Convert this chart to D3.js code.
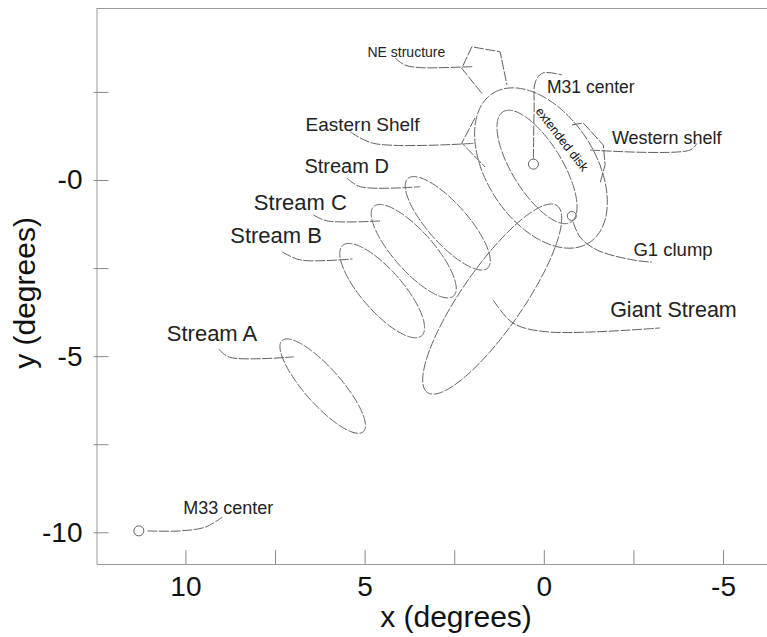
<!DOCTYPE html>
<html><head><meta charset="utf-8">
<script src="https://cdn.jsdelivr.net/npm/d3@7"></script>
<style>body{margin:0;background:#fff}svg{display:block;font-family:"Liberation Sans",Arial,sans-serif}</style>
</head><body><svg id="c" width="767" height="637"></svg>
<script>
// ---------- data (degrees) ----------
const xTicks = [10, 7.5, 5, 2.5, 0, -2.5, -5];
const xTickLabels = ["10", "", "5", "", "0", "", "-5"];
const yTicks = [2.5, 0, -2.5, -5, -7.5, -10];
const yTickLabels = ["", "-0", "", "-5", "", "-10"];

const ellipseNames   = ["Stream A", "Stream B", "Stream C", "Stream D", "Giant Stream", "outer disk", "inner disk"];
const ellipseCenters = [[6.17, -5.85], [4.51, -3.14], [3.63, -2.02], [2.68, -1.23], [1.44, -3.38], [0.08, 0.34], [0.19, 0.37]];
const ellipseAxes    = [[1.72, 0.51], [1.69, 0.58], [1.69, 0.56], [1.69, 0.56], [3.21, 0.86], [2.51, 1.52], [1.83, 0.70]];
const ellipseAngles  = [49, 49.5, 49, 49, -55.8, 58, 59];

const shelfNames  = ["NE structure", "Eastern Shelf", "Western shelf"];
const shelfPoints = [
  [[1.73, 2.46], [2.29, 3.17], [2.01, 3.78], [1.22, 3.64], [1.03, 2.70]],
  [[1.92, 1.76], [2.29, 1.05], [1.64, 0.37]],
  [[-0.78, 1.56], [-1.10, 1.62], [-1.66, 0.99], [-1.71, 0.43], [-1.57, -0.09]]
];

const centerNames  = ["M31 center", "G1 clump", "M33 center"];
const centerPoints = [[0.29, 0.45], [-0.78, -1.02], [11.30, -9.96]];

const labelTexts  = ["NE structure", "M31 center", "Eastern Shelf", "Stream D", "Stream C", "Stream B", "Stream A",
                     "Western shelf", "G1 clump", "Giant Stream", "M33 center"];
const labelAnchors = [[4.92, 3.49], [-0.09, 2.46], [6.65, 1.40], [6.68, 0.19], [8.09, -0.85], [8.75, -1.80], [10.52, -4.56],
                      [-1.90, 1.02], [-2.50, -2.16], [-1.85, -3.88], [10.06, -9.49]];
const leaderLines = [
  [[4.15, 3.46], [3.87, 3.26], [3.45, 3.19], [1.96, 3.22]],
  [[0.29, 0.60], [0.27, 2.0], [0.23, 2.8], [0.02, 3.04], [-0.51, 2.98]],
  [[5.40, 1.37], [4.75, 1.04], [1.96, 1.04]],
  [[5.49, 0.05], [5.12, -0.19], [3.45, -0.19]],
  [[6.43, -0.99], [6.05, -1.16], [4.52, -1.16]],
  [[7.30, -2.04], [6.79, -2.27], [5.34, -2.24]],
  [[9.07, -4.80], [8.77, -5.03], [6.98, -5.02]],
  [[-1.29, 0.85], [-4.08, 0.85], [-4.27, 1.04]],
  [[-0.82, -1.19], [-1.01, -1.62], [-1.49, -1.99], [-2.49, -2.27], [-3.02, -2.33]],
  [[1.41, -3.41], [0.86, -4.06], [-0.09, -4.31], [-3.24, -4.20]],
  [[11.06, -9.96], [10.14, -9.96], [9.44, -9.85], [8.97, -9.57]]
];
const diskLabel = "extended disk";
const diskLabelAt = [-0.51, 1.16];
const diskLabelAngle = 52;

// ---------- styles ----------
const labelSizes = [14, 17.5, 19, 20, 22, 22, 22, 18, 18.5, 21.5, 18];
const lineColor = "#606060";
const dash = "10,1.6";

// ---------- chart ----------
const svg = d3.select("#c");
const x = d3.scaleLinear().domain([12.481, -6.227]).range([96.5, 767]);
const y = d3.scaleLinear().domain([4.882, -10.9]).range([8, 564]);

// frame top
svg.append("line").attr("x1", 96.5).attr("x2", 767).attr("y1", 8.5).attr("y2", 8.5)
  .attr("stroke", "#9a9a9a").attr("stroke-width", 1);

const xAxis = svg.append("g").attr("transform", "translate(0,564)")
  .call(d3.axisBottom(x).tickValues(xTicks).tickSizeInner(-14).tickSizeOuter(0).tickPadding(12)
    .tickFormat((d, i) => xTickLabels[i]));
xAxis.select(".domain").attr("stroke", "#9a9a9a");
xAxis.selectAll(".tick line").attr("stroke", "#8a8a8a");
xAxis.selectAll(".tick text").attr("font-size", 28).attr("fill", "#111")
  .attr("font-family", "'Liberation Sans', Arial, sans-serif");

const yAxis = svg.append("g").attr("transform", "translate(96.5,0)")
  .call(d3.axisLeft(y).tickValues(yTicks).tickSizeInner(-12).tickSizeOuter(0).tickPadding(14)
    .tickFormat((d, i) => yTickLabels[i]));
yAxis.select(".domain").attr("stroke", "#9a9a9a");
yAxis.selectAll(".tick line").attr("stroke", "#8a8a8a").attr("x1", -3).attr("x2", 12);
yAxis.selectAll(".tick text").attr("font-size", 28).attr("fill", "#111")
  .attr("font-family", "'Liberation Sans', Arial, sans-serif");

svg.append("text").attr("x", 456).attr("y", 627).attr("text-anchor", "middle")
  .attr("font-size", 30).attr("fill", "#111").text("x (degrees)");
svg.append("text").attr("transform", "translate(35,293) rotate(-90)").attr("text-anchor", "middle")
  .attr("font-size", 30).attr("fill", "#111").text("y (degrees)");

// ellipses
const plot = svg.append("g");
const line = d3.line().x(d => x(d[0])).y(d => y(d[1]));
ellipseNames.forEach((n, i) => {
  const [cx, cy] = ellipseCenters[i], [a, b] = ellipseAxes[i], p = ellipseAngles[i] * Math.PI / 180;
  const pts = d3.range(0, 361, 2).map(t => {
    const r = t * Math.PI / 180;
    return [cx + a * Math.cos(r) * Math.cos(p) - b * Math.sin(r) * Math.sin(p),
            cy + a * Math.cos(r) * Math.sin(p) + b * Math.sin(r) * Math.cos(p)];
  });
  plot.append("path").attr("d", line(pts)).attr("fill", "none")
    .attr("stroke", lineColor).attr("stroke-width", 1).attr("stroke-dasharray", dash);
});

// shelves
shelfPoints.forEach(pts => {
  plot.append("path").attr("d", line(pts)).attr("fill", "none")
    .attr("stroke", lineColor).attr("stroke-width", 1).attr("stroke-dasharray", dash);
});

// leader lines
const curve = d3.line().x(d => x(d[0])).y(d => y(d[1])).curve(d3.curveCatmullRom.alpha(0.5));
leaderLines.forEach(pts => {
  plot.append("path").attr("d", curve(pts)).attr("fill", "none")
    .attr("stroke", lineColor).attr("stroke-width", 1).attr("stroke-dasharray", dash);
});

// center circles
const radii = [5, 4.5, 5];
centerPoints.forEach((c, i) => {
  plot.append("circle").attr("cx", x(c[0])).attr("cy", y(c[1])).attr("r", radii[i])
    .attr("fill", "none").attr("stroke", lineColor).attr("stroke-width", 1);
});

// labels
labelTexts.forEach((t, i) => {
  svg.append("text").attr("x", x(labelAnchors[i][0])).attr("y", y(labelAnchors[i][1]))
    .attr("font-size", labelSizes[i]).attr("fill", "#222").text(t);
});
svg.append("text")
  .attr("transform", `translate(${x(diskLabelAt[0])},${y(diskLabelAt[1])}) rotate(${diskLabelAngle})`)
  .attr("text-anchor", "middle").attr("dy", "0.35em").attr("font-size", 12.5).attr("fill", "#111")
  .text(diskLabel);
</script></body></html>
